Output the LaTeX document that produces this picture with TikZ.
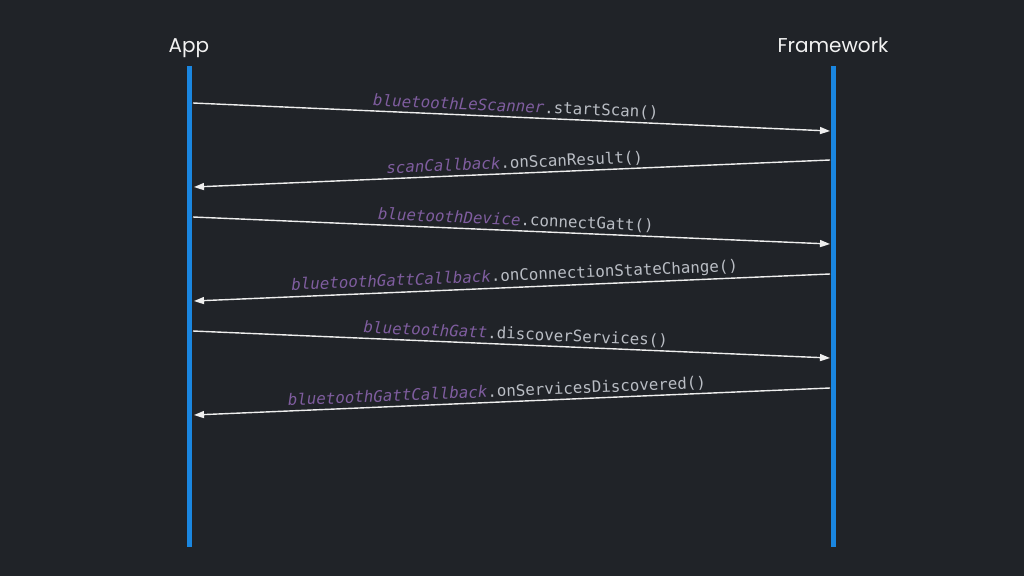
\documentclass[tikz,border=0pt]{standalone}
\usepackage{fontspec}
\setmainfont{Poppins}
\setmonofont{DejaVu Sans Mono}
\usetikzlibrary{arrows.meta}
\definecolor{bg}{HTML}{202328}
\definecolor{lifeblue}{HTML}{1A86E0}
\definecolor{purp}{HTML}{7F5D9F}
\definecolor{codegray}{HTML}{B9BDC4}
\definecolor{arrowc}{HTML}{EEEEEE}
\definecolor{titlec}{HTML}{F2F2F2}
\newcommand\codelbl[2]{{\color{purp}\itshape #1}{\color{codegray}.#2}}
\begin{document}
\begin{tikzpicture}[x=1pt,y=-1pt,
  lifeline/.style={draw=lifeblue,line width=5pt},
  title/.style={font=\fontsize{20}{23}\selectfont,text=titlec,anchor=base},
  msg/.style={draw=arrowc,line width=1.4pt,-{Triangle[length=10pt,width=7pt]}},
  rlbl/.style={font=\ttfamily\fontsize{15.8}{18}\selectfont,rotate=-2.43,anchor=south,inner sep=2.5pt},
  llbl/.style={font=\ttfamily\fontsize{15.8}{18}\selectfont,rotate=2.43,anchor=south,inner sep=2.5pt}]
\fill[bg] (0,0) rectangle (1024,576);
\useasboundingbox (0,0) rectangle (1024,576);
% titles
\node[title] (app) at (189,52) {App};
\node[title] (fw) at (833,52) {Framework};
% lifelines
\coordinate (appTop) at (189,66);
\coordinate (appBot) at (189,547);
\coordinate (fwTop) at (833,66);
\coordinate (fwBot) at (833,547);
\draw[lifeline] (appTop) -- (appBot);
\draw[lifeline] (fwTop) -- (fwBot);
% message end points
\coordinate (a1) at (193,103); \coordinate (f1) at (830,131);
\coordinate (f2) at (830,160); \coordinate (a2) at (194,187);
\coordinate (a3) at (193,217); \coordinate (f3) at (830,244);
\coordinate (f4) at (830,274); \coordinate (a4) at (194,301);
\coordinate (a5) at (193,331); \coordinate (f5) at (830,358);
\coordinate (f6) at (830,388); \coordinate (a6) at (194,415);
% messages
\draw[msg] (a1) -- node[rlbl,pos=0.506] (m1) {\codelbl{bluetoothLeScanner}{startScan()}} (f1);
\draw[msg] (f2) -- node[llbl,pos=0.495] (m2) {\codelbl{scanCallback}{onScanResult()}} (a2);
\draw[msg] (a3) -- node[rlbl,pos=0.506] (m3) {\codelbl{bluetoothDevice}{connectGatt()}} (f3);
\draw[msg] (f4) -- node[llbl,pos=0.495] (m4) {\codelbl{bluetoothGattCallback}{onConnectionStateChange()}} (a4);
\draw[msg] (a5) -- node[rlbl,pos=0.506] (m5) {\codelbl{bluetoothGatt}{discoverServices()}} (f5);
\draw[msg] (f6) -- node[llbl,pos=0.523] (m6) {\codelbl{bluetoothGattCallback}{onServicesDiscovered()}} (a6);
\end{tikzpicture}
\end{document}
